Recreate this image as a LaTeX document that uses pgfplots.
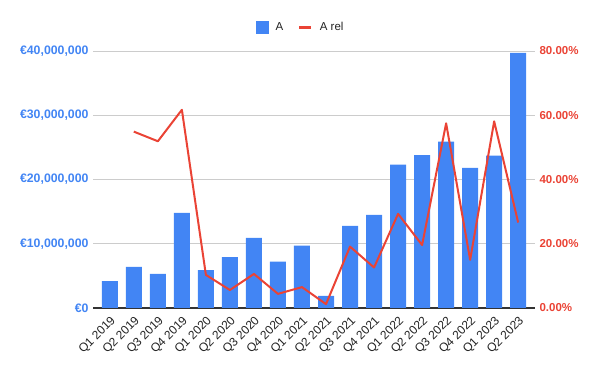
\documentclass[border=0pt]{standalone}
\usepackage{pgfplots}
\pgfplotsset{compat=1.18}
\usepackage{fontspec}
\setmainfont{Liberation Sans}
\definecolor{barblue}{HTML}{4285F4}
\definecolor{linered}{HTML}{EA4335}
\definecolor{gridgray}{HTML}{CCCCCC}
\definecolor{txt}{HTML}{222222}
\definecolor{axline}{HTML}{333333}

\begin{document}
\begin{tikzpicture}
\path[use as bounding box] (0,0) rectangle (600pt,371pt);
\begin{axis}[
  at={(93pt,63pt)}, anchor=south west, scale only axis,
  width=442pt, height=257pt,
  xmin=-0.7, xmax=17.7, ymin=0, ymax=40000000,
  scaled y ticks=false,
  axis x line*=bottom, axis y line*=left,
  y axis line style={draw=none},
  x axis line style={draw=axline, line width=1.2pt, -},
  major tick length=0pt,
  ymajorgrids, grid style={gridgray, line width=0.8pt},
  ytick={0,10000000,20000000,30000000,40000000},
  yticklabels={{€0},{€10,000,000},{€20,000,000},{€30,000,000},{€40,000,000}},
  yticklabel style={text=barblue, font=\bfseries\fontsize{12.3}{14}\selectfont, xshift=-1pt},
  xtick={0,...,17},
  xticklabels={Q1 2019,Q2 2019,Q3 2019,Q4 2019,Q1 2020,Q2 2020,Q3 2020,Q4 2020,Q1 2021,Q2 2021,Q3 2021,Q4 2021,Q1 2022,Q2 2022,Q3 2022,Q4 2022,Q1 2023,Q2 2023},
  xticklabel style={inner sep=0pt, xshift=4pt, yshift=-11pt, rotate=45, anchor=east, text=txt, font=\fontsize{12}{14}\selectfont},
]
\addplot[ybar, bar width=16pt, fill=barblue, draw=none] coordinates {
(0,4200000) (1,6400000) (2,5300000) (3,14800000) (4,5900000) (5,7900000)
(6,10900000) (7,7200000) (8,9700000) (9,1900000) (10,12800000) (11,14500000)
(12,22300000) (13,23800000) (14,25900000) (15,21800000) (16,23700000) (17,39700000)
};
\end{axis}
\begin{axis}[
  at={(93pt,63pt)}, anchor=south west, scale only axis,
  width=442pt, height=257pt,
  xmin=-0.7, xmax=17.7, ymin=0, ymax=80,
  axis x line=none, axis y line*=right,
  y axis line style={draw=none},
  major tick length=0pt,
  ytick={0,20,40,60,80},
  yticklabels={{0.00\%},{20.00\%},{40.00\%},{60.00\%},{80.00\%}},
  yticklabel style={text=linered, font=\bfseries\fontsize{11.5}{13}\selectfont, xshift=1pt},
  legend columns=2,
  legend style={at={(0.369,1.092)}, anchor=west, draw=none, fill=none, inner sep=0pt,
    font=\fontsize{11.5}{13}\selectfont, text=txt,
    /tikz/every odd column/.append style={column sep=5pt},
    /tikz/every even column/.append style={column sep=12pt}},
]
\addlegendimage{legend image code/.code={\fill[barblue] (0pt,-6pt) rectangle (12pt,6pt);}}
\addlegendentry{A}
\addplot[linered, line width=2pt, line join=round,
  legend image code/.code={\draw[linered, line width=3.5pt] (0pt,0pt) -- (12pt,0pt);}] coordinates {
(1,54.9) (2,51.9) (3,61.7) (4,10.3) (5,5.6) (6,10.6) (7,4.4) (8,6.5) (9,1.2)
(10,19.1) (11,12.6) (12,29.3) (13,19.6) (14,57.5) (15,15.0) (16,58.1) (17,26.6)
};
\addlegendentry{A rel}
\end{axis}
\end{tikzpicture}
\end{document}
